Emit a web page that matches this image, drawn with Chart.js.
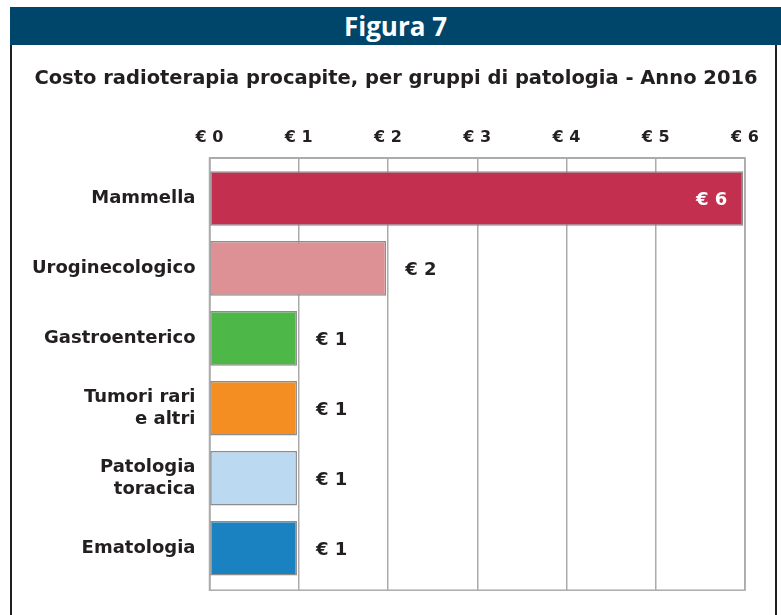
<!DOCTYPE html>
<html><head><meta charset="utf-8">
<script src="https://cdn.jsdelivr.net/npm/chart.js@4"></script>
<style>
html,body{margin:0;padding:0;background:#fff;width:781px;height:615px;overflow:hidden;}
#hdr{position:absolute;left:10px;top:7px;width:771px;height:38px;background:#00466b;color:#fff;font:bold 26px "Open Sans",sans-serif;text-align:center;line-height:38px;}
#lb{position:absolute;left:10px;top:45px;width:2px;height:570px;background:#231f20;}
#rb{position:absolute;left:775px;top:45px;width:2px;height:570px;background:#231f20;}
#wrap{position:absolute;left:12px;top:45px;width:768px;height:570px;}
</style></head>
<body>
<div id="hdr">Figura 7</div><div id="lb"></div><div id="rb"></div>
<div id="wrap"><canvas id="c"></canvas></div>
<script>
const categories = [['Mammella'], ['Uroginecologico'], ['Gastroenterico'], ['Tumori rari', 'e altri'], ['Patologia', 'toracica'], ['Ematologia']];
const values = [5.98, 1.98, 0.98, 0.98, 0.98, 0.98];
const valueLabels = ['€ 6', '€ 2', '€ 1', '€ 1', '€ 1', '€ 1'];
const barColors = ['#c3304f', '#de9194', '#4db848', '#f48e22', '#bbd9f1', '#1b82c1'];
const xTickLabels = ['€ 0', '€ 1', '€ 2', '€ 3', '€ 4', '€ 5', '€ 6'];
const titleText = 'Costo radioterapia procapite, per gruppi di patologia - Anno 2016';

const FONT = '"DejaVu Sans", sans-serif';
const TXT = '#231f20';
const GRID = '#ababab';

const framePlugin = {
  id: 'frame',
  afterLayout(chart) {
    // center the title on the whole canvas, not on the padded box
    const t = chart.titleBlock;
    if (t) { t.left = 0; t.right = chart.width; }
  },
  beforeDatasetsDraw(chart) {
    const {ctx, chartArea: a} = chart;
    ctx.save();
    ctx.strokeStyle = GRID;
    ctx.lineWidth = 1.5;
    ctx.strokeRect(a.left, a.top, a.right - a.left, a.bottom - a.top);
    ctx.restore();
  }
};

const labelPlugin = {
  id: 'valueLabels',
  afterDatasetsDraw(chart) {
    const {ctx, chartArea} = chart;
    const meta = chart.getDatasetMeta(0);
    ctx.save();
    ctx.font = 'bold 18px ' + FONT;
    ctx.textBaseline = 'middle';
    meta.data.forEach((bar, i) => {
      const txt = valueLabels[i];
      const w = ctx.measureText(txt).width;
      if (bar.x + 19 + w > chartArea.right) {
        ctx.fillStyle = '#ffffff';
        ctx.textAlign = 'right';
        ctx.fillText(txt, bar.x - 16, bar.y + 2);
      } else {
        ctx.fillStyle = TXT;
        ctx.textAlign = 'left';
        ctx.fillText(txt, bar.x + 19, bar.y + 2);
      }
    });
    ctx.restore();
  }
};

new Chart(document.getElementById('c'), {
  type: 'bar',
  data: {
    datasets: [{
      data: values.map((v, i) => ({x: v, y: i})),
      backgroundColor: barColors,
      borderColor: '#8c8c8c',
      borderWidth: 1.5,
      borderSkipped: false,
      categoryPercentage: 1,
      barPercentage: 0.78
    }]
  },
  options: {
    indexAxis: 'y',
    responsive: true,
    maintainAspectRatio: false,
    devicePixelRatio: 1,
    animation: false,
    layout: {padding: {left: 0, right: 35, bottom: 24, top: 0}},
    plugins: {
      legend: {display: false},
      tooltip: {enabled: false},
      title: {
        display: true,
        text: titleText,
        color: TXT,
        font: {family: FONT, size: 19.5, weight: 'bold'},
        padding: {top: 21.8, bottom: 27}
      }
    },
    scales: {
      x: {
        type: 'linear',
        position: 'top',
        min: 0, max: 6,
        ticks: {
          stepSize: 1,
          padding: 10.9,
          color: TXT,
          font: {family: FONT, size: 16, weight: 'bold'},
          callback: (v) => xTickLabels[v]
        },
        grid: {color: GRID, lineWidth: 1.5, drawTicks: false},
        border: {display: true, color: GRID, width: 1.5}
      },
      y: {
        type: 'linear',
        reverse: true,
        offset: false,
        min: -0.575, max: 5.6,
        afterBuildTicks: (s) => { s.ticks = categories.map((c, i) => ({value: i})); },
        afterFit: (s) => { s.width = 197.5; },
        ticks: {
          padding: 14,
          color: TXT,
          font: {family: FONT, size: 18, weight: 'bold', lineHeight: 1.2},
          callback: (v) => categories[v]
        },
        grid: {display: false, drawTicks: false, offset: false},
        border: {display: true, color: GRID, width: 1.5}
      }
    }
  },
  plugins: [framePlugin, labelPlugin]
});
</script>
</body></html>
